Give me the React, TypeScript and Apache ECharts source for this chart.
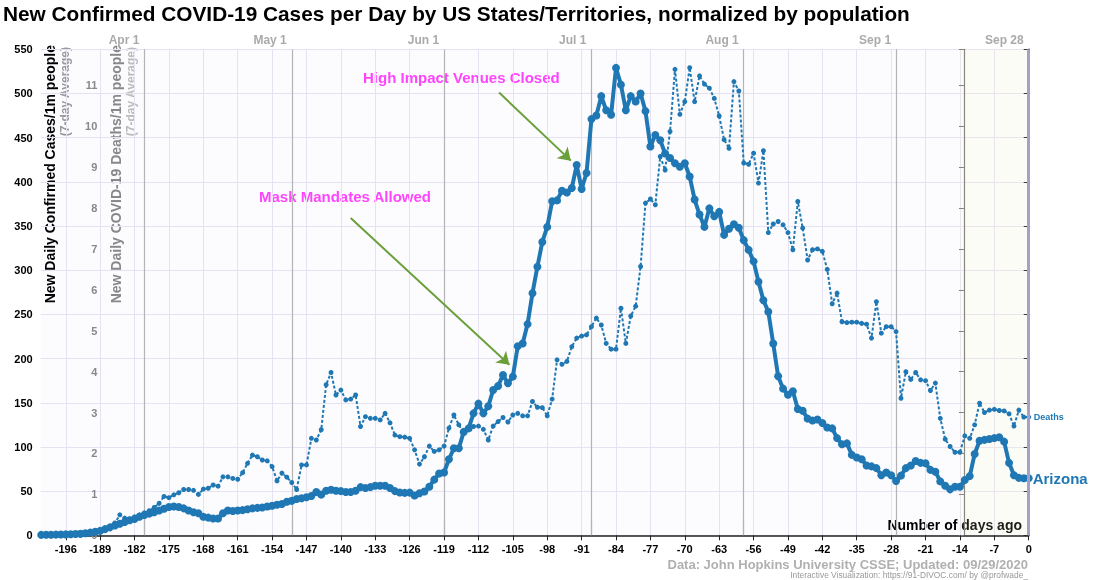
import { useEffect, useRef } from 'react';
import * as echarts from 'echarts';

// day offset of the first value (Sep 28 = day 0)
const START_DAY = -201;

// new daily confirmed cases per 1m people, 7-day average, days -201..0
const CASES = [
  0.5, 0.6, 0.7, 0.8, 0.9, 1, 1.2, 1.4, 1.8, 2.3,
  3, 4, 5, 7, 9, 11, 13, 15, 17, 18.5,
  21, 23, 24.5, 26, 28, 30, 32, 32.5, 32, 30.5,
  28, 26, 25, 21, 20, 19, 19, 25, 28, 27.5,
  28, 28.5, 29.5, 30.5, 31, 31.5, 32.5, 33.5, 34.5, 35.5,
  38, 39, 41, 42, 43, 44.5, 49, 46, 50.5, 51.5,
  50.5, 50, 49, 49, 50.5, 54.5, 53.5, 54.5, 56, 56,
  56, 53.5, 50, 48.5, 48, 48.3, 45, 47.5, 49.5, 55,
  63, 70, 71, 86, 98.5, 98.5, 117, 121, 138, 149,
  138, 146, 164.5, 169, 181.5, 172, 179.6, 214, 217, 239,
  274, 304, 332, 349, 378, 379, 390, 388, 393, 419,
  392, 410, 471, 475, 497, 481, 476, 529, 510, 481,
  497, 491, 500, 480, 440, 453, 447, 432, 427, 421,
  417, 421, 406, 380, 363, 349, 370, 361, 366, 340,
  347, 352, 348, 334, 323, 310, 287, 266, 253, 217,
  180, 166, 159, 163, 143, 141, 132, 130, 131, 127,
  122, 121, 110, 103, 104, 91, 88, 86, 79, 78,
  76, 68, 71, 68, 61.5, 67.5, 76, 79, 84, 82,
  81.5, 74, 72, 61, 56, 52, 55, 55, 62.6, 67,
  92, 107, 108, 109, 110, 111, 106, 82, 68, 65,
  64.5, 64.5,
];

// new daily deaths per 1m people, 7-day average, days -201..0
const DEATHS = [
  0, 0, 0, 0, 0, 0, 0, 0, 0, 0.02,
  0.05, 0.08, 0.1, 0.15, 0.2, 0.3, 0.5, 0.42, 0.4, 0.45,
  0.5, 0.55, 0.6, 0.68, 0.78, 0.95, 0.92, 0.99, 1.04, 1.12,
  1.12, 1.1, 1.0, 1.13, 1.15, 1.23, 1.2, 1.43, 1.43, 1.39,
  1.37, 1.53, 1.76, 1.96, 1.92, 1.84, 1.82, 1.68, 1.33, 1.52,
  1.42, 1.29, 1.12, 1.72, 1.72, 2.37, 2.33, 2.58, 3.68, 3.98,
  3.43, 3.55, 3.31, 3.33, 3.43, 2.66, 2.9, 2.86, 2.86, 2.82,
  2.98, 2.75, 2.45, 2.41, 2.4, 2.37, 2.09, 1.74, 1.92, 2.18,
  2.05, 2.09, 2.18, 2.62, 2.94, 2.7, 2.51, 2.62, 2.66, 2.67,
  2.59, 2.33, 2.67, 2.78, 2.88, 2.77, 2.94, 2.98, 2.92, 2.92,
  3.27, 3.13, 3.12, 2.92, 3.33, 4.29, 4.18, 4.25, 4.61, 4.82,
  4.87, 4.9, 5.1, 5.31, 5.14, 4.69, 4.55, 4.55, 5.55, 4.69,
  5.36, 5.6, 6.57, 8.12, 8.22, 8.08, 9.26, 8.93, 9.87, 11.39,
  10.29, 10.6, 11.43, 10.6, 11.23, 11.03, 10.93, 10.68, 10.25, 9.67,
  9.46, 11.09, 10.86, 9.1, 9.07, 9.34, 8.61, 9.4, 7.4, 7.61,
  7.67, 7.59, 7.4, 6.98, 8.16, 7.51, 6.73, 6.98, 7.0, 6.94,
  6.5, 5.66, 5.92, 5.22, 5.2, 5.21, 5.21, 5.18, 5.16, 4.82,
  5.71, 4.94, 5.1, 5.1, 4.98, 3.35, 4.0, 3.81, 3.98, 3.8,
  3.78, 3.54, 3.72, 2.86, 2.35, 2.17, 2.03, 2.03, 2.43, 2.37,
  2.7, 3.23, 3.0, 3.06, 3.08, 3.05, 3.04, 2.97, 2.67, 3.06,
  2.89, 2.89,
];

const X_TICKS = [-196, -189, -182, -175, -168, -161, -154, -147, -140, -133, -126, -119, -112, -105, -98, -91, -84, -77, -70, -63, -56, -49, -42, -35, -28, -21, -14, -7, 0];
const MONTH_DAYS = [-180, -150, -119, -89, -58, -27, 0];
const MONTH_LABELS = ['Apr 1', 'May 1', 'Jun 1', 'Jul 1', 'Aug 1', 'Sep 1', 'Sep 28'];

// annotation arrows: [day, cases] start -> end
const MASK_ARROW = [[-138, 359], [-105.7, 193]];
const VENUES_ARROW = [[-107.8, 501], [-93.2, 424]];

const BLUE = '#1f77b4';
const FONT = '"Liberation Sans", Arial, Helvetica, sans-serif';
const GRID_COLOR = '#e7e2f2';

export default function App() {
  const chartRef = useRef<HTMLDivElement>(null);

  useEffect(() => {
    if (!chartRef.current) return;
    const chart = echarts.init(chartRef.current, undefined, { renderer: 'svg' });

    const casePts = CASES.map((v, i) => [START_DAY + i, v]);
    const deathPts = DEATHS.map((v, i) => [START_DAY + i, v]);

    chart.setOption({
      animation: false,
      textStyle: { fontFamily: FONT },
      grid: { left: 40.7, right: 79.3, top: 49.3, bottom: 44.7, outerBoundsMode: 'none', show: true, backgroundColor: '#fcfcfe', borderWidth: 0 },
      xAxis: [
        {
          type: 'value', min: -201.1, max: 0, position: 'bottom',
          axisLine: { lineStyle: { color: '#222', width: 1.5 } },
          axisTick: { customValues: X_TICKS, length: 5, lineStyle: { color: '#222' } },
          axisLabel: { customValues: X_TICKS, color: '#000', fontWeight: 'bold', fontSize: 11, margin: 8 },
          splitLine: { show: true, lineStyle: { color: GRID_COLOR } },
        },
        {
          type: 'value', min: -201.1, max: 0, position: 'top',
          axisLine: { show: false },
          axisTick: { show: true, customValues: MONTH_DAYS, length: 16, lineStyle: { color: '#b4b4b4', width: 1.2 } },
          axisLabel: {
            customValues: MONTH_DAYS, color: '#aaa', fontWeight: 'bold', fontSize: 12, margin: 3, align: 'right', padding: [0, 5, 0, 0],
            formatter: (v: number) => MONTH_LABELS[MONTH_DAYS.indexOf(v)] ?? '',
          },
          splitLine: { show: true, lineStyle: { color: '#b4b4b4', width: 1.2 } },
        },
      ],
      yAxis: [
        {
          type: 'value', min: 0, max: 550, interval: 50, position: 'left',
          axisLine: { show: true, lineStyle: { color: '#222', width: 1.5 } },
          axisTick: { show: true, length: 5, lineStyle: { color: '#222' } },
          axisLabel: { color: '#000', fontWeight: 'bold', fontSize: 11, margin: 8 },
          splitLine: { show: true, lineStyle: { color: GRID_COLOR } },
        },
        {
          type: 'value', min: 0, max: 11.88, interval: 1, position: 'left', offset: -64.6,
          axisLine: { show: true, lineStyle: { color: '#777', width: 1.2 } },
          axisTick: { show: true, length: 5, lineStyle: { color: '#777' } },
          axisLabel: {
            color: '#888', fontWeight: 'bold', fontSize: 11, margin: 8,
            formatter: (v: number) => (Number.isInteger(v) ? String(v) : ''),
          },
          splitLine: { show: false },
        },
      ],
      series: [
        {
          name: 'Deaths', type: 'line', xAxisIndex: 0, yAxisIndex: 1, data: deathPts, z: 2,
          symbol: 'circle', symbolSize: 5, showSymbol: true,
          itemStyle: { color: BLUE },
          lineStyle: { color: BLUE, width: 2, type: [3, 2] },
          endLabel: { show: true, formatter: 'Deaths', color: BLUE, fontSize: 9, fontWeight: 'bold', distance: 5 },
          markArea: {
            silent: true,
            itemStyle: { color: 'rgba(255,255,200,0.12)' },
            data: [[{ xAxis: -14 }, { xAxis: 0 }]],
          },
          markLine: {
            silent: true, symbol: 'none', label: { show: false },
            lineStyle: { color: '#a99fc4', width: 3, type: 'solid' },
            data: [{ xAxis: 0 }],
          },
        },
        {
          name: 'Arizona', type: 'line', xAxisIndex: 0, yAxisIndex: 0, data: casePts, z: 3,
          symbol: 'circle', symbolSize: 8, showSymbol: true,
          itemStyle: { color: BLUE },
          lineStyle: { color: BLUE, width: 4 },
          endLabel: { show: true, formatter: 'Arizona', color: BLUE, fontSize: 15, fontWeight: 'bold', distance: 4 },
          markLine: {
            silent: true, symbol: ['none', 'arrow'], symbolSize: 12, label: { show: false },
            lineStyle: { color: '#6a9f3a', width: 2, type: 'solid' },
            data: [
              [{ coord: MASK_ARROW[0] }, { coord: MASK_ARROW[1] }],
              [{ coord: VENUES_ARROW[0] }, { coord: VENUES_ARROW[1] }],
            ],
          },
        },
      ],
      graphic: [
        { type: 'text', left: 3, top: 3, style: { text: 'New Confirmed COVID-19 Cases per Day by US States/Territories, normalized by population', font: `bold 20.8px ${FONT}`, fill: '#000' } },
        { type: 'text', x: 50, y: 45, rotation: Math.PI / 2, style: { text: 'New Daily Confirmed Cases/1m people', font: `bold 14px ${FONT}`, fill: '#000', align: 'right', verticalAlign: 'middle' } },
        { type: 'text', x: 65, y: 47, rotation: Math.PI / 2, style: { text: '(7-day Average)', font: `bold 12px ${FONT}`, fill: '#999', align: 'right', verticalAlign: 'middle' } },
        { type: 'text', x: 116, y: 45, rotation: Math.PI / 2, style: { text: 'New Daily COVID-19 Deaths/1m people', font: `bold 14px ${FONT}`, fill: '#888', align: 'right', verticalAlign: 'middle' } },
        { type: 'text', x: 131, y: 47, rotation: Math.PI / 2, style: { text: '(7-day Average)', font: `bold 12px ${FONT}`, fill: '#bbb', align: 'right', verticalAlign: 'middle' } },
        { type: 'text', x: 363, y: 77, style: { text: 'High Impact Venues Closed', font: `bold 15px ${FONT}`, fill: '#ff44ff', verticalAlign: 'middle' } },
        { type: 'text', x: 259, y: 196, style: { text: 'Mask Mandates Allowed', font: `bold 15px ${FONT}`, fill: '#ff44ff', verticalAlign: 'middle' } },
        { type: 'text', x: 1022, y: 525, style: { text: 'Number of days ago', font: `bold 14px ${FONT}`, fill: '#000', align: 'right', verticalAlign: 'middle' } },
        { type: 'text', x: 1028, y: 564, style: { text: 'Data: John Hopkins University CSSE; Updated: 09/29/2020', font: `bold 13px ${FONT}`, fill: '#b0b0b0', align: 'right', verticalAlign: 'middle' } },
        { type: 'text', x: 1028, y: 575, style: { text: 'Interactive Visualization: https://91-DIVOC.com/ by @profwade_', font: `8.4px ${FONT}`, fill: '#999', align: 'right', verticalAlign: 'middle' } },
      ],
    });

    return () => chart.dispose();
  }, []);

  return <div ref={chartRef} style={{ position: 'fixed', left: 0, top: 0, width: 1108, height: 580 }} />;
}
